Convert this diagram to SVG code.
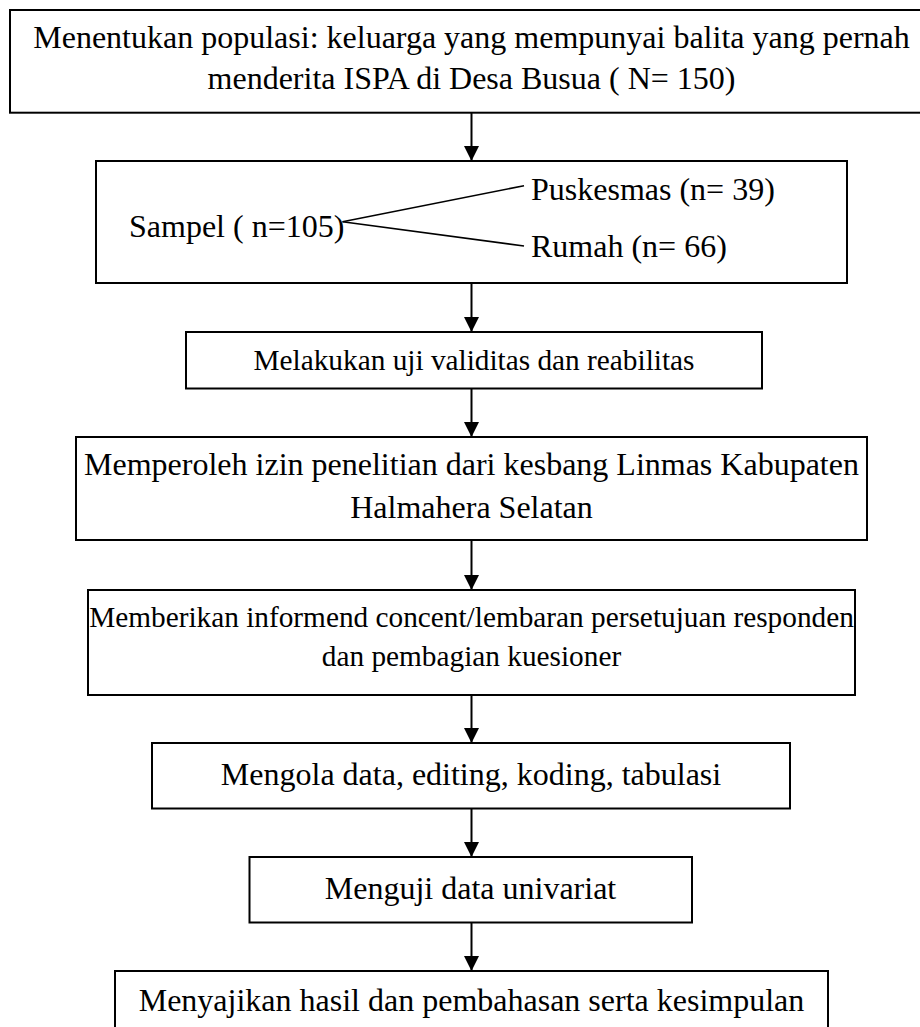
<svg xmlns="http://www.w3.org/2000/svg" width="920" height="1027" viewBox="0 0 920 1027">
<style>
.box{fill:#fff;stroke:#000;stroke-width:2}
.t{font-family:"Liberation Serif","Times New Roman",serif;font-size:32px;fill:#000}
.s{font-size:29.3px}
.c{text-anchor:middle}
.conn{stroke:#000;stroke-width:2;fill:none}
.br{stroke:#000;stroke-width:1.6;fill:none}
</style>
<defs>
<marker id="ah" markerUnits="userSpaceOnUse" markerWidth="15" markerHeight="15" viewBox="0 0 15 15" refX="15" refY="7.5" orient="auto"><path d="M0,0 L15,7.5 L0,15 z" fill="#000"/></marker>
</defs>
<rect width="920" height="1027" fill="#fff"/>
<g id="connectors">
<line class="conn" x1="471.5" y1="112.7" x2="471.5" y2="161" marker-end="url(#ah)"/>
<line class="conn" x1="471.5" y1="283" x2="471.5" y2="332" marker-end="url(#ah)"/>
<line class="conn" x1="471.5" y1="388.5" x2="471.5" y2="437" marker-end="url(#ah)"/>
<line class="conn" x1="471.5" y1="540" x2="471.5" y2="590" marker-end="url(#ah)"/>
<line class="conn" x1="471.5" y1="695" x2="471.5" y2="743" marker-end="url(#ah)"/>
<line class="conn" x1="471.5" y1="808.5" x2="471.5" y2="857" marker-end="url(#ah)"/>
<line class="conn" x1="471.5" y1="922.5" x2="471.5" y2="971" marker-end="url(#ah)"/>
</g>
<g id="n1">
<rect class="box" x="10" y="10" width="923" height="102.7"/>
<text class="t c" x="471.5" y="47.5">Menentukan populasi: keluarga yang mempunyai balita yang pernah</text>
<text class="t c" x="471.5" y="89">menderita ISPA di Desa Busua ( N= 150)</text>
</g>
<g id="n2">
<rect class="box" x="96" y="161" width="751" height="122"/>
<text class="t" x="129" y="237">Sampel ( n=105)</text>
<text class="t" x="531" y="200">Puskesmas (n= 39)</text>
<text class="t" x="531" y="257">Rumah (n= 66)</text>
<line class="br" x1="342.5" y1="221.7" x2="524" y2="185.7"/>
<line class="br" x1="342.5" y1="221.7" x2="524" y2="246"/>
</g>
<g id="n3">
<rect class="box" x="186" y="332" width="576" height="56.5"/>
<text class="t s c" x="474" y="370">Melakukan uji validitas dan reabilitas</text>
</g>
<g id="n4">
<rect class="box" x="76" y="437" width="791" height="103"/>
<text class="t c" x="471.5" y="475">Memperoleh izin penelitian dari kesbang Linmas Kabupaten</text>
<text class="t c" x="471.5" y="518">Halmahera Selatan</text>
</g>
<g id="n5">
<rect class="box" x="88" y="590" width="767" height="105"/>
<text class="t s c" x="471.5" y="627">Memberikan informend concent/lembaran persetujuan responden</text>
<text class="t s c" x="471.5" y="666">dan pembagian kuesioner</text>
</g>
<g id="n6">
<rect class="box" x="152" y="743" width="638" height="65.5"/>
<text class="t c" x="471" y="785">Mengola data, editing, koding, tabulasi</text>
</g>
<g id="n7">
<rect class="box" x="249.5" y="857" width="442.5" height="65.5"/>
<text class="t c" x="470.5" y="898.5">Menguji data univariat</text>
</g>
<g id="n8">
<rect class="box" x="115" y="971" width="713" height="70"/>
<text class="t c" x="471.5" y="1011">Menyajikan hasil dan pembahasan serta kesimpulan</text>
</g>
</svg>
